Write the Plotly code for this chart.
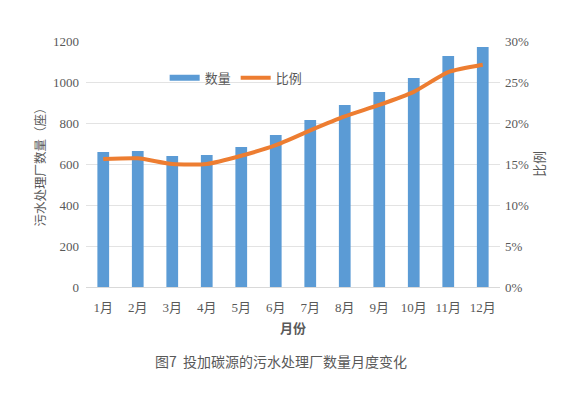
import plotly.graph_objects as go

months = ["1月", "2月", "3月", "4月", "5月", "6月", "7月", "8月", "9月", "10月", "11月", "12月"]
counts = [658, 663, 639, 644, 683, 741, 815, 888, 951, 1020, 1127, 1171]
ratios = [0.156, 0.157, 0.150, 0.150, 0.160, 0.173, 0.191, 0.208, 0.222, 0.238, 0.262, 0.271]

left_ticks = [0, 200, 400, 600, 800, 1000, 1200]
right_ticks = [0, 0.05, 0.10, 0.15, 0.20, 0.25, 0.30]
right_labels = ["0%", "5%", "10%", "15%", "20%", "25%", "30%"]

grey = "#595959"
tick_font = dict(family="Liberation Serif, Times New Roman, serif", size=13, color=grey)
cjk = "Noto Sans CJK SC, sans-serif"
bar_color = "#5B9BD5"
line_color = "#ED7D31"

fig = go.Figure()
fig.add_trace(go.Bar(
    x=months, y=counts, name="数量", showlegend=False,
    marker=dict(color=bar_color, line=dict(width=0)),
    width=0.34,
))
fig.add_trace(go.Scatter(
    x=months, y=ratios, name="比例", yaxis="y2", showlegend=False,
    mode="lines", line=dict(color=line_color, width=4, shape="spline", smoothing=0.6),
))
# legend entries (line-style keys as in the reference)
fig.add_trace(go.Scatter(x=[None], y=[None], name="数量", mode="lines",
                         line=dict(color=bar_color, width=6)))
fig.add_trace(go.Scatter(x=[None], y=[None], name="比例", mode="lines",
                         line=dict(color=line_color, width=4)))

fig.update_layout(
    width=561, height=393,
    margin=dict(l=78, r=69, t=33, b=114),
    paper_bgcolor="white", plot_bgcolor="white",
    showlegend=True,
    legend=dict(orientation="h", x=0.19, y=0.85, xanchor="left", yanchor="middle",
                font=dict(family=cjk, size=13, color=grey),
                bgcolor="rgba(0,0,0,0)", itemwidth=30, tracegroupgap=0),
    xaxis=dict(
        showgrid=False, showline=True, linecolor="#D9D9D9", linewidth=1,
        ticks="", ticklabelstandoff=8,
        tickfont=dict(family=tick_font["family"] + ", " + cjk, size=13, color=grey),
        title=dict(text="<b>月份</b>", font=dict(family=cjk, size=13, color=grey), standoff=10),
    ),
    yaxis=dict(
        range=[0, 1200], tickvals=left_ticks, showgrid=True, gridcolor="#E3E3E3",
        zeroline=False, showline=False, ticks="", tickfont=tick_font, ticklabelstandoff=6,
        title=dict(text="污水处理厂数量（座）", font=dict(family=cjk, size=12.5, color=grey), standoff=4),
    ),
    yaxis2=dict(
        range=[0, 0.30], tickvals=right_ticks, ticktext=right_labels, overlaying="y", side="right",
        showgrid=False, zeroline=False, showline=False, ticks="", tickfont=tick_font,
        ticklabelstandoff=4,
        title=dict(text="比例", font=dict(family=cjk, size=13, color=grey), standoff=0),
    ),
    annotations=[dict(
        text="图7  投加碳源的污水处理厂数量月度变化", xref="paper", yref="paper",
        x=0.472, y=-0.30, xanchor="center", yanchor="middle", showarrow=False,
        font=dict(family=cjk, size=14, color=grey),
    )],
)

fig.write_html("out.html")
